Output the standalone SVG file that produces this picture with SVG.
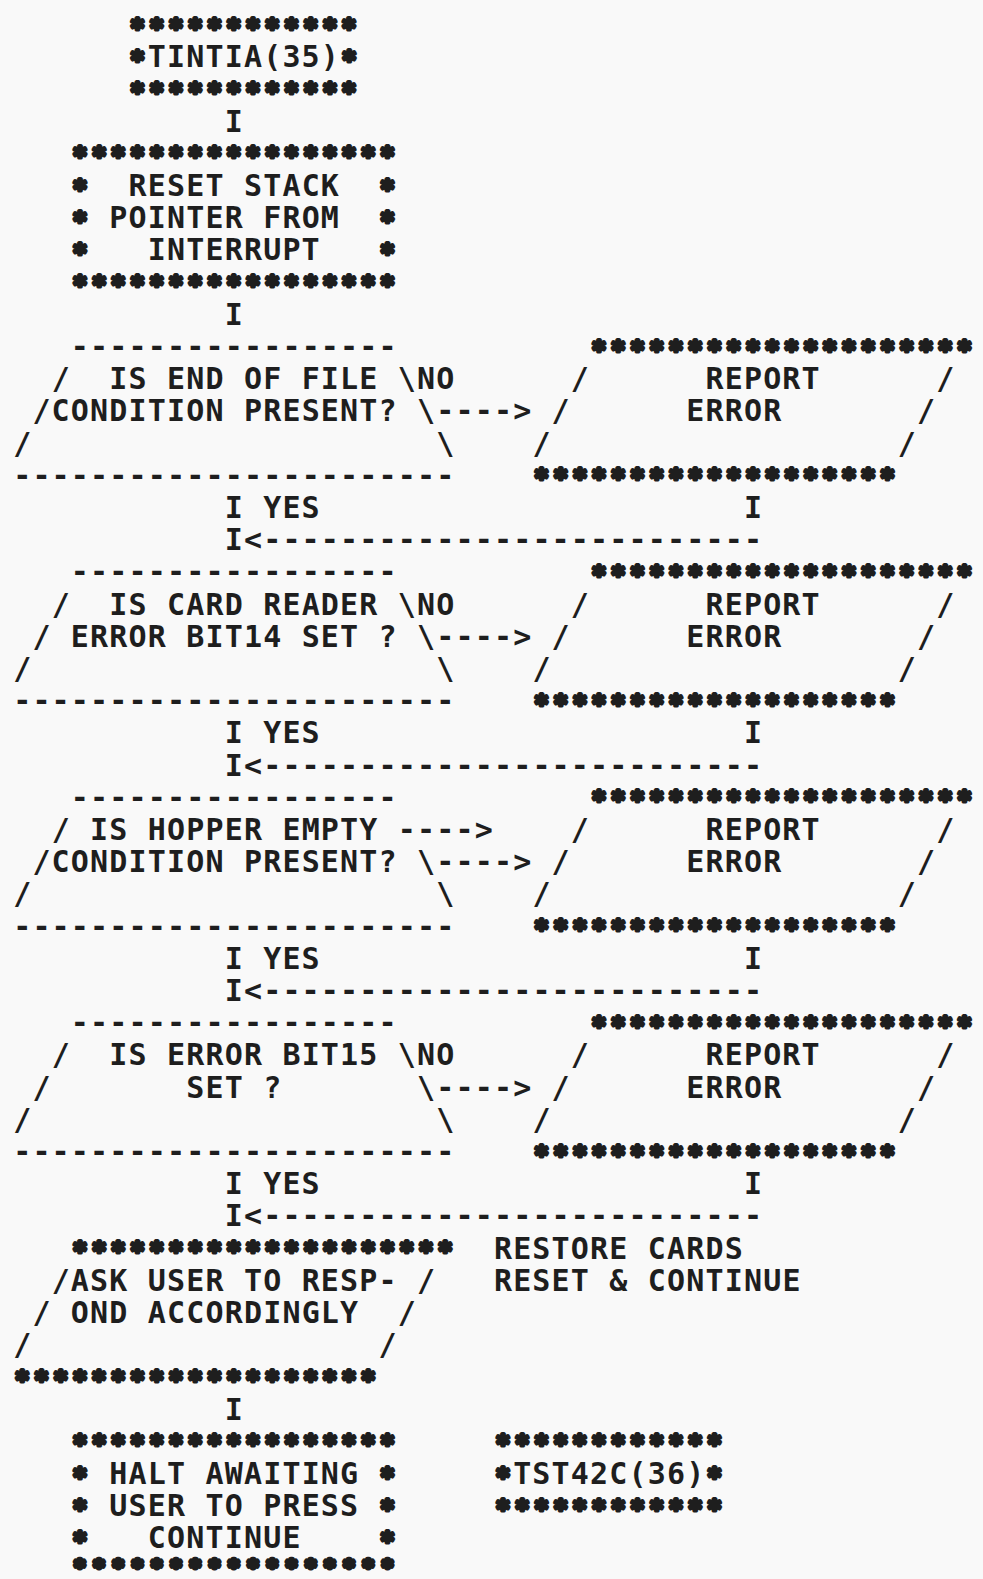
<svg xmlns="http://www.w3.org/2000/svg" width="983" height="1579" viewBox="0 0 983 1579" xml:space="preserve">
<style>
text{font-family:"DejaVu Sans Mono","Liberation Mono",monospace;font-weight:bold;fill:#1e1e1e;white-space:pre}
.t{font-size:30px;letter-spacing:1.17px;transform:translateY(11px)}
.s{font-size:24px;letter-spacing:4.78px;transform:translate(1.8px,11.5px);stroke:#1e1e1e;stroke-width:3.8px;stroke-linejoin:round}
.sb{font-size:20px;letter-spacing:7.19px;transform:translate(3.01px,11.2px);stroke:#1e1e1e;stroke-width:4.6px;stroke-linejoin:round}
</style>
<rect width="983" height="1579" fill="#f9f9f9"/>
<g id="start">
<text class="s" x="128.55" y="24">************</text>
<text class="s" x="128.55" y="56.2">*</text>
<text class="t" x="147.78" y="56.2">TINTIA(35)</text>
<text class="s" x="340.08" y="56.2">*</text>
<text class="s" x="128.55" y="88.4">************</text>
</g>
<g id="reset">
<text class="s" x="70.86" y="152.8">*****************</text>
<text class="s" x="70.86" y="185">*</text>
<text class="t" x="128.55" y="185">RESET STACK</text>
<text class="s" x="378.54" y="185">*</text>
<text class="s" x="70.86" y="217.2">*</text>
<text class="t" x="109.32" y="217.2">POINTER FROM</text>
<text class="s" x="378.54" y="217.2">*</text>
<text class="s" x="70.86" y="249.4">*</text>
<text class="t" x="147.78" y="249.4">INTERRUPT</text>
<text class="s" x="378.54" y="249.4">*</text>
<text class="s" x="70.86" y="281.6">*****************</text>
</g>
<g id="dec1">
<text class="t" x="70.86" y="346">-----------------</text>
<text class="t" x="51.63" y="378.2">/  IS END OF FILE \</text>
<text class="t" x="32.40" y="410.4">/CONDITION PRESENT? \</text>
<text class="t" x="13.17" y="442.6">/                     \</text>
<text class="t" x="13.17" y="474.8">-----------------------</text>
</g>
<g id="rep1">
<text class="s" x="590.07" y="346">********************</text>
<text class="t" x="570.84" y="378.2">/      REPORT      /</text>
<text class="t" x="551.61" y="410.4">/      ERROR       /</text>
<text class="t" x="532.38" y="442.6">/                  /</text>
<text class="s" x="532.38" y="474.8">*******************</text>
</g>
<g id="dec2">
<text class="t" x="70.86" y="571.4">-----------------</text>
<text class="t" x="51.63" y="603.6">/  IS CARD READER \</text>
<text class="t" x="32.40" y="635.8">/ ERROR BIT14 SET ? \</text>
<text class="t" x="13.17" y="668">/                     \</text>
<text class="t" x="13.17" y="700.2">-----------------------</text>
</g>
<g id="rep2">
<text class="s" x="590.07" y="571.4">********************</text>
<text class="t" x="570.84" y="603.6">/      REPORT      /</text>
<text class="t" x="551.61" y="635.8">/      ERROR       /</text>
<text class="t" x="532.38" y="668">/                  /</text>
<text class="s" x="532.38" y="700.2">*******************</text>
</g>
<g id="dec3">
<text class="t" x="70.86" y="796.8">-----------------</text>
<text class="t" x="51.63" y="829">/ IS HOPPER EMPTY</text>
<text class="t" x="32.40" y="861.2">/CONDITION PRESENT? \</text>
<text class="t" x="13.17" y="893.4">/                     \</text>
<text class="t" x="13.17" y="925.6">-----------------------</text>
</g>
<g id="rep3">
<text class="s" x="590.07" y="796.8">********************</text>
<text class="t" x="570.84" y="829">/      REPORT      /</text>
<text class="t" x="551.61" y="861.2">/      ERROR       /</text>
<text class="t" x="532.38" y="893.4">/                  /</text>
<text class="s" x="532.38" y="925.6">*******************</text>
</g>
<g id="dec4">
<text class="t" x="70.86" y="1022.2">-----------------</text>
<text class="t" x="51.63" y="1054.4">/  IS ERROR BIT15 \</text>
<text class="t" x="32.40" y="1086.6">/       SET ?       \</text>
<text class="t" x="13.17" y="1118.8">/                     \</text>
<text class="t" x="13.17" y="1151">-----------------------</text>
</g>
<g id="rep4">
<text class="s" x="590.07" y="1022.2">********************</text>
<text class="t" x="570.84" y="1054.4">/      REPORT      /</text>
<text class="t" x="551.61" y="1086.6">/      ERROR       /</text>
<text class="t" x="532.38" y="1118.8">/                  /</text>
<text class="s" x="532.38" y="1151">*******************</text>
</g>
<g id="ask">
<text class="s" x="70.86" y="1247.6">********************</text>
<text class="t" x="51.63" y="1279.8">/ASK USER TO RESP- /</text>
<text class="t" x="32.40" y="1312">/ OND ACCORDINGLY  /</text>
<text class="t" x="13.17" y="1344.2">/                  /</text>
<text class="s" x="13.17" y="1376.4">*******************</text>
</g>
<g id="note">
<text class="t" x="493.92" y="1247.6">RESTORE CARDS</text>
<text class="t" x="493.92" y="1279.8">RESET &amp; CONTINUE</text>
</g>
<g id="halt">
<text class="s" x="70.86" y="1440.8">*****************</text>
<text class="s" x="70.86" y="1473">*</text>
<text class="t" x="109.32" y="1473">HALT AWAITING</text>
<text class="s" x="378.54" y="1473">*</text>
<text class="s" x="70.86" y="1505.2">*</text>
<text class="t" x="109.32" y="1505.2">USER TO PRESS</text>
<text class="s" x="378.54" y="1505.2">*</text>
<text class="s" x="70.86" y="1537.4">*</text>
<text class="t" x="147.78" y="1537.4">CONTINUE</text>
<text class="s" x="378.54" y="1537.4">*</text>
<text class="sb" x="70.86" y="1562.3">*****************</text>
</g>
<g id="end">
<text class="s" x="493.92" y="1440.8">************</text>
<text class="s" x="493.92" y="1473">*</text>
<text class="t" x="513.15" y="1473">TST42C(36)</text>
<text class="s" x="705.45" y="1473">*</text>
<text class="s" x="493.92" y="1505.2">************</text>
</g>
<g id="connectors">
<text class="t" x="224.70" y="120.6">I</text>
<text class="t" x="224.70" y="313.8">I</text>
<text class="t" x="417.00" y="378.2">NO</text>
<text class="t" x="436.23" y="410.4">----&gt;</text>
<text class="t" x="224.70" y="507">I YES</text>
<text class="t" x="743.91" y="507">I</text>
<text class="t" x="224.70" y="539.2">I&lt;--------------------------</text>
<text class="t" x="417.00" y="603.6">NO</text>
<text class="t" x="436.23" y="635.8">----&gt;</text>
<text class="t" x="224.70" y="732.4">I YES</text>
<text class="t" x="743.91" y="732.4">I</text>
<text class="t" x="224.70" y="764.6">I&lt;--------------------------</text>
<text class="t" x="397.77" y="829">----&gt;</text>
<text class="t" x="436.23" y="861.2">----&gt;</text>
<text class="t" x="224.70" y="957.8">I YES</text>
<text class="t" x="743.91" y="957.8">I</text>
<text class="t" x="224.70" y="990">I&lt;--------------------------</text>
<text class="t" x="417.00" y="1054.4">NO</text>
<text class="t" x="436.23" y="1086.6">----&gt;</text>
<text class="t" x="224.70" y="1183.2">I YES</text>
<text class="t" x="743.91" y="1183.2">I</text>
<text class="t" x="224.70" y="1215.4">I&lt;--------------------------</text>
<text class="t" x="224.70" y="1408.6">I</text>
</g>
</svg>
